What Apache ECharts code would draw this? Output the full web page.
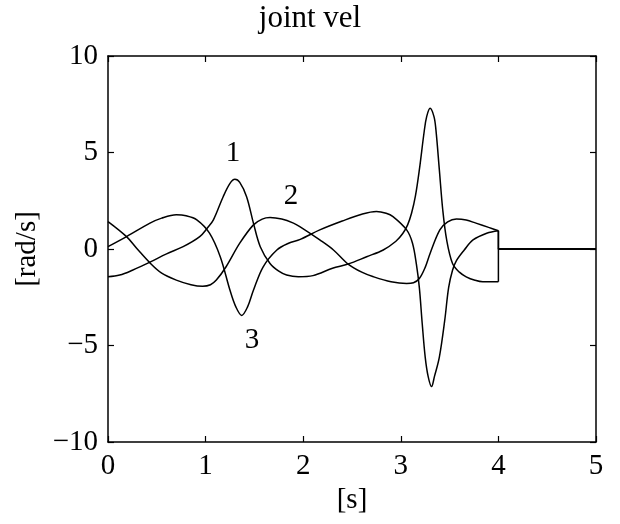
<!DOCTYPE html>
<html>
<head>
<meta charset="utf-8">
<script src="https://cdn.jsdelivr.net/npm/echarts@6/dist/echarts.min.js"></script>
<style>
  html, body { margin: 0; padding: 0; background: #fff; }
  #chart { width: 620px; height: 524px; }
</style>
</head>
<body>
<div id="chart"></div>
<script>
// Joint velocities of a 3-joint motion, [time s, velocity rad/s]
const joint1 = [
  [0,-1.44],[0.12,-1.35],[0.25,-1.1],[0.43,-0.68],[0.6,-0.25],[0.77,0.12],[0.94,0.64],
  [1.02,1.1],[1.08,1.51],[1.18,2.71],[1.25,3.4],[1.30,3.61],[1.35,3.45],[1.42,2.71],
  [1.49,1.34],[1.56,0.12],[1.66,-0.75],[1.75,-1.15],[1.83,-1.35],[1.95,-1.44],
  [2.1,-1.38],[2.3,-1.0],[2.46,-0.78],[2.65,-0.4],[2.82,-0.05],[2.95,0.4],[3.02,0.8],
  [3.07,1.25],[3.11,1.85],[3.15,2.75],[3.19,4.1],[3.24,6.1],[3.265,6.86],[3.30,7.29],
  [3.34,6.86],[3.36,6.17],[3.395,4.1],[3.43,2.02],[3.47,0.47],[3.53,-0.75],[3.6,-1.2],
  [3.67,-1.44],[3.76,-1.62],[3.84,-1.70],[4.0,-1.70]
];
const joint2 = [
  [0,1.42],[0.19,0.64],[0.3,0.0],[0.43,-0.72],[0.55,-1.25],[0.70,-1.61],[0.85,-1.85],
  [0.97,-1.93],[1.05,-1.85],[1.11,-1.61],[1.21,-0.92],[1.35,0.30],[1.49,1.25],[1.58,1.55],
  [1.66,1.63],[1.78,1.55],[1.90,1.34],[1.965,1.16],[2.17,0.47],[2.31,-0.05],[2.46,-0.78],
  [2.6,-1.2],[2.72,-1.44],[2.9,-1.7],[3.06,-1.79],[3.13,-1.75],[3.19,-1.53],[3.25,-0.95],
  [3.30,-0.23],[3.40,0.99],[3.48,1.4],[3.57,1.55],[3.67,1.5],[3.77,1.34],[3.9,1.12],
  [4.0,0.95]
];
const joint3 = [
  [0,0.12],[0.19,0.64],[0.43,1.34],[0.55,1.6],[0.70,1.77],[0.8,1.72],[0.91,1.51],
  [1.04,0.82],[1.15,-0.40],[1.25,-2.14],[1.31,-3.0],[1.37,-3.44],[1.43,-3.0],[1.49,-2.14],
  [1.59,-0.92],[1.73,-0.05],[1.85,0.3],[1.97,0.5],[2.17,0.99],[2.4,1.45],[2.6,1.8],
  [2.75,1.94],[2.85,1.85],[2.92,1.68],[3.06,0.99],[3.12,0.3],[3.16,-0.8],[3.19,-2.0],
  [3.22,-3.9],[3.25,-5.6],[3.28,-6.6],[3.315,-7.13],[3.345,-6.6],[3.395,-5.6],[3.45,-3.7],
  [3.49,-2.0],[3.53,-1.1],[3.57,-0.6],[3.65,-0.05],[3.74,0.47],[3.88,0.82],[4.0,0.95]
];
// After the motion ends every joint is held at zero velocity
const stopTime = 4;
const endTime = 5;

// Curve labels: [x, y, text]
const curveLabels = [[1.28, 4.97, '1'], [1.875, 2.75, '2'], [1.475, -4.72, '3']];

// Axis ranges and tick spacing
const xTicks = [0, 1, 2, 3, 4, 5];
const yTicks = [-10, -5, 0, 5, 10];

const FONT = 'Liberation Serif';
const fmtY = v => (v < 0 ? '\u2212' + Math.abs(v) : String(v));

const axisCommon = {
  axisLine: { show: true, onZero: false, lineStyle: { color: '#000', width: 1.5 } },
  axisTick: { show: true, inside: true, length: 6, lineStyle: { color: '#000', width: 1.2 } },
  splitLine: { show: false }
};

const curveStyle = { color: '#000', width: 1.5 };
const curves = [joint1, joint2, joint3];

const series = [];
curves.forEach((c, i) => {
  series.push({
    name: 'joint' + (i + 1), type: 'line', data: c, smooth: 0.35,
    showSymbol: false, lineStyle: curveStyle, xAxisIndex: 0, yAxisIndex: 0, z: 3
  });
  const last = c[c.length - 1][1];
  series.push({
    name: 'joint' + (i + 1) + ' stop', type: 'line',
    data: [[stopTime, last], [stopTime, 0], [endTime, 0]],
    showSymbol: false, lineStyle: curveStyle, xAxisIndex: 0, yAxisIndex: 0, z: 3
  });
});
series.push({
  type: 'scatter', symbolSize: 1, xAxisIndex: 0, yAxisIndex: 0,
  itemStyle: { color: 'rgba(0,0,0,0)' },
  data: curveLabels.map(d => ({ value: [d[0], d[1]], name: d[2] })),
  label: {
    show: true, position: 'inside', formatter: '{b}', opacity: 1,
    fontFamily: FONT, fontSize: 29, color: '#000', textBorderWidth: 0
  },
  z: 5
});

const chart = echarts.init(document.getElementById('chart'), null, { renderer: 'canvas' });
chart.setOption({
  animation: false,
  backgroundColor: '#fff',
  title: {
    text: 'joint vel', left: 'center', top: -2,
    textStyle: { fontFamily: FONT, fontSize: 31, fontWeight: 'normal', color: '#000' }
  },
  grid: { left: 108, right: 24, top: 56, bottom: 82 },
  xAxis: [
    Object.assign({
      type: 'value', position: 'bottom', min: xTicks[0], max: xTicks[xTicks.length - 1], interval: 1,
      name: '[s]', nameLocation: 'middle', nameGap: 42,
      nameTextStyle: { fontFamily: FONT, fontSize: 29, color: '#000' },
      axisLabel: { fontFamily: FONT, fontSize: 29, color: '#000', margin: 10 }
    }, axisCommon),
    Object.assign({
      type: 'value', position: 'top', min: xTicks[0], max: xTicks[xTicks.length - 1], interval: 1,
      axisLabel: { show: false }
    }, axisCommon)
  ],
  yAxis: [
    Object.assign({
      type: 'value', position: 'left', min: yTicks[0], max: yTicks[yTicks.length - 1], interval: 5,
      name: '[rad/s]', nameLocation: 'middle', nameGap: 60, nameRotate: 90,
      nameTextStyle: { fontFamily: FONT, fontSize: 29, color: '#000' },
      axisLabel: { fontFamily: FONT, fontSize: 29, color: '#000', margin: 10, formatter: fmtY }
    }, axisCommon),
    Object.assign({
      type: 'value', position: 'right', min: yTicks[0], max: yTicks[yTicks.length - 1], interval: 5,
      axisLabel: { show: false }
    }, axisCommon)
  ],
  series: series
});
</script>
</body>
</html>
